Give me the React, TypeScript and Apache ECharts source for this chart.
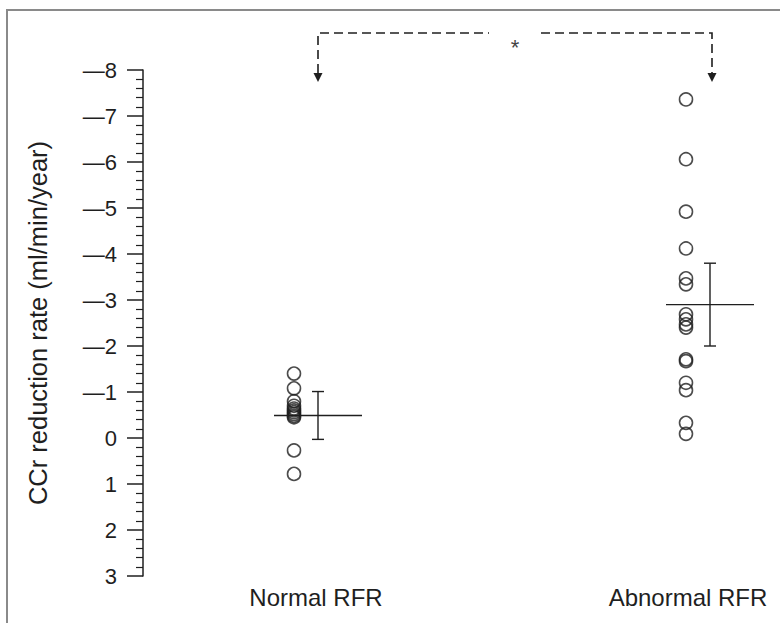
import React, { useEffect, useRef } from "react";
import * as echarts from "echarts";

const categories = ["Normal RFR", "Abnormal RFR"];
const normalValues = [-1.4, -1.08, -0.8, -0.7, -0.64, -0.6, -0.56, -0.52, -0.48, -0.45, 0.27, 0.78];
const abnormalValues = [-7.36, -6.06, -4.92, -4.12, -3.47, -3.34, -2.69, -2.58, -2.47, -2.4, -1.71, -1.67, -1.2, -1.04, -0.33, -0.09];
const groupMeans = [-0.49, -2.9];
const groupSDs = [0.52, 0.9];
const yTicks = { min: -8, max: 3, interval: 1 };
const yTitle = "CCr reduction rate (ml/min/year)";
const sigLabel = "*";

const FONT = "'Liberation Sans', Arial, Helvetica, sans-serif";
const INK = "#1f1f1f";

export default function App() {
  const ref = useRef<HTMLDivElement>(null);
  useEffect(() => {
    if (!ref.current) return;
    const chart = echarts.init(ref.current, undefined, { renderer: "svg" });
    const points: [number, number][] = [];
    normalValues.forEach((v) => points.push([0, v]));
    abnormalValues.forEach((v) => points.push([1, v]));
    const ERR_DX = 24;
    chart.setOption({
      animation: false,
      backgroundColor: "#ffffff",
      grid: { left: 294, right: 94, top: 70, bottom: 47, containLabel: false },
      xAxis: {
        type: "category",
        data: categories,
        boundaryGap: false,
        axisLine: { show: false },
        axisTick: { show: false },
        splitLine: { show: false },
        axisLabel: {
          margin: 9,
          interval: 0,
          formatter: (v: string) => (v === categories[0] ? `{a|${v}}` : `{b|${v}}`),
          rich: {
            a: { fontSize: 24, fontFamily: FONT, color: INK, padding: [0, 0, 0, 44] },
            b: { fontSize: 24, fontFamily: FONT, color: INK, padding: [0, 0, 0, 4] },
          },
        },
      },
      yAxis: {
        type: "value",
        inverse: true,
        min: yTicks.min,
        max: yTicks.max,
        interval: yTicks.interval,
        offset: 151,
        name: yTitle,
        nameLocation: "middle",
        nameGap: 92,
        nameRotate: 90,
        nameTextStyle: { fontSize: 25.5, fontFamily: FONT, color: INK },
        axisLine: { show: true, lineStyle: { color: INK, width: 1.5 } },
        axisTick: { show: true, length: 16, lineStyle: { color: INK, width: 1.5 } },
        minorTick: { show: true, splitNumber: 5, length: 7, lineStyle: { color: INK, width: 1.2 } },
        splitLine: { show: false },
        axisLabel: {
          margin: 26,
          fontSize: 22,
          fontFamily: FONT,
          color: INK,
          formatter: (v: number) => (v < 0 ? "\u2014" + String(-v) : String(v)),
        },
      },
      series: [
        {
          type: "scatter",
          data: points,
          symbol: "circle",
          symbolSize: 13,
          itemStyle: { color: "rgba(255,255,255,0)", borderColor: INK, borderWidth: 1.6 },
        },
        {
          type: "custom",
          data: groupMeans.map((m, i) => [i, m, groupSDs[i]]),
          renderItem: (params: any, api: any) => {
            const idx = api.value(0);
            const mean = api.value(1);
            const sd = api.value(2);
            const c = api.coord([idx, mean]);
            const t = api.coord([idx, mean - sd]);
            const b = api.coord([idx, mean + sd]);
            const x = c[0] + ERR_DX;
            const st = { stroke: INK, lineWidth: 1.4 };
            return {
              type: "group",
              children: [
                { type: "line", shape: { x1: x - 44, y1: c[1], x2: x + 44, y2: c[1] }, style: st },
                { type: "line", shape: { x1: x, y1: t[1], x2: x, y2: b[1] }, style: st },
                { type: "line", shape: { x1: x - 6, y1: t[1], x2: x + 6, y2: t[1] }, style: st },
                { type: "line", shape: { x1: x - 6, y1: b[1], x2: x + 6, y2: b[1] }, style: st },
              ],
            };
          },
        },
        {
          type: "custom",
          data: [[0, 1]],
          renderItem: (params: any, api: any) => {
            const p1 = api.coord([api.value(0), yTicks.min]);
            const p2 = api.coord([api.value(1), yTicks.min]);
            const x1 = p1[0] + ERR_DX;
            const x2 = p2[0] + ERR_DX + 2;
            const yTop = p1[1] - 37;
            const yTip = p1[1] + 12;
            const mid = (x1 + x2) / 2;
            const ds = { stroke: INK, lineWidth: 1.6, lineDash: [9, 5], fill: null };
            const arrow = (x: number) => ({
              type: "polygon",
              shape: { points: [[x - 4.5, yTip - 9], [x + 4.5, yTip - 9], [x, yTip]] },
              style: { fill: INK },
            });
            return {
              type: "group",
              children: [
                { type: "polyline", shape: { points: [[x1, yTip - 9], [x1, yTop], [mid - 26, yTop]] }, style: ds },
                { type: "polyline", shape: { points: [[mid + 26, yTop], [x2, yTop], [x2, yTip - 9]] }, style: ds },
                arrow(x1),
                arrow(x2),
                {
                  type: "text",
                  style: { text: sigLabel, x: mid, y: yTop + 14, align: "center", verticalAlign: "middle", fontSize: 22, fontFamily: FONT, fill: "#444" },
                },
              ],
            };
          },
        },
      ],
      graphic: [
        {
          type: "polyline",
          shape: { points: [[7, 623], [7, 10], [780, 10]] },
          style: { stroke: "#8a8a8a", lineWidth: 2, fill: null },
          silent: true,
        },
      ],
    });
    return () => chart.dispose();
  }, []);
  return <div ref={ref} style={{ width: 780, height: 623, position: "absolute", left: 0, top: 0 }} />;
}
